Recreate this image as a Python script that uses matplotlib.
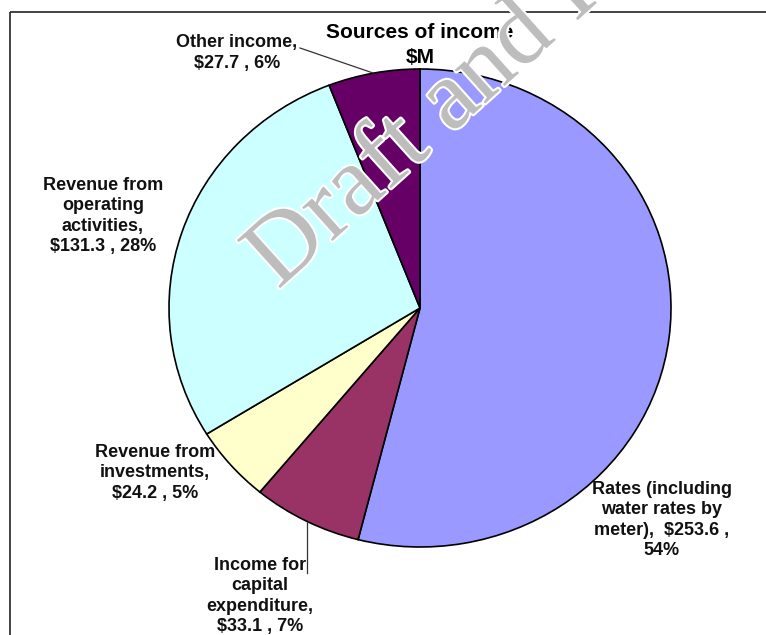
import matplotlib.pyplot as plt
import matplotlib.patheffects as pe
from matplotlib.patches import Rectangle

# income sources, $M
sources = ["Rates (including\nwater rates by\nmeter)",
           "Income for\ncapital\nexpenditure",
           "Revenue from\ninvestments",
           "Revenue from\noperating\nactivities",
           "Other income"]
amounts = [253.6, 33.1, 24.2, 131.3, 27.7]
colors = ["#9999FF", "#993366", "#FFFFCC", "#CCFFFF", "#660066"]

# label block centres in pixels (x, y from top)
label_pos = [(662, 520), (260, 596), (155, 473), (103, 216), (237, 53)]

W, H = 766, 635
fig = plt.figure(figsize=(W / 100, H / 100), dpi=100)
fig.patch.set_facecolor("white")

# pie drawn in its own axes, slightly wider than tall
cx, cy, rx, ry = 420, 308, 251, 239
ax = fig.add_axes([(cx - rx) / W, 1 - (cy + ry) / H, 2 * rx / W, 2 * ry / H])
ax.pie(amounts, colors=colors, startangle=90, counterclock=False,
       wedgeprops=dict(edgecolor="black", linewidth=1.2))
ax.set_aspect("auto")
ax.set_xlim(-1, 1)
ax.set_ylim(-1, 1)

# overlay in pixel coordinates for text, leader lines and the frame
ov = fig.add_axes([0, 0, 1, 1], zorder=5)
ov.set_xlim(0, W)
ov.set_ylim(H, 0)
ov.axis("off")
ov.patch.set_alpha(0)

ov.add_patch(Rectangle((10, 12), W + 20, H + 20, fill=False,
                       edgecolor="#222222", linewidth=1.2, clip_on=False))

ov.text(420, 45, "Sources of income\n$M", ha="center", va="center",
        fontsize=15, fontweight="bold", family="Liberation Sans",
        linespacing=1.4)

total = sum(amounts)
for i, (name, amt) in enumerate(zip(sources, amounts)):
    pct = round(amt / total * 100)
    if i == 0:
        txt = f"{name},  ${amt:.1f} ,\n{pct}%"
    else:
        txt = f"{name},\n${amt:.1f} , {pct}%"
    x, y = label_pos[i]
    ov.text(x, y, txt, ha="center", va="center", fontsize=13,
            fontweight="bold", family="Liberation Sans", linespacing=1.25,
            color="#111111")

# leader lines
ov.plot([300, 373], [48, 73], color="#333333", linewidth=0.9)
ov.plot([307, 307], [573, 522], color="#333333", linewidth=0.9)

# watermark
ov.text(278, 290, "Draft and In", fontsize=71, family="Liberation Serif",
        color="#BDBDBD", rotation=42, rotation_mode="anchor",
        ha="left", va="baseline", zorder=10,
        path_effects=[pe.withStroke(linewidth=3, foreground="white")])

fig.savefig("out.png", dpi=100)
